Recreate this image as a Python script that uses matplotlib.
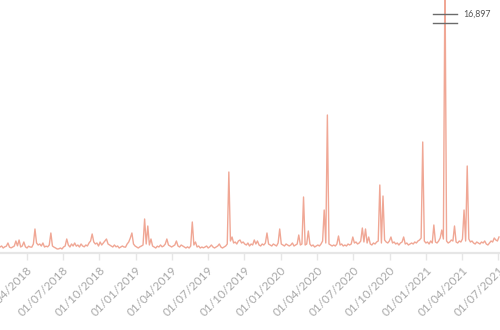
import matplotlib
matplotlib.use("Agg")
import matplotlib.pyplot as plt
import matplotlib.dates as mdates
import matplotlib.transforms as mtransforms
import pandas as pd

# samples every 4 days starting 24/01/2018
START = "2018-01-24"
STEP = "4D"

vals_2018 = [
    360, 420, 300, 370, 410, 600, 350, 310, 360, 420,
    720, 430, 780, 360, 420, 660, 370, 300, 410, 360,
    350, 540, 1440, 600, 480, 540, 420, 600, 360, 410,
    370, 480, 1200, 420, 350, 300, 240, 250, 300, 240,
    360, 420, 840, 480, 360, 540, 420, 600, 410, 480,
    360, 540, 420, 370, 480, 420, 600, 720, 1140, 660,
    540, 600, 420, 660, 480, 600, 720, 840, 540, 480,
    420, 360, 480, 370, 420, 300, 360, 420, 360, 350,
    540, 660, 900, 1200, 540, 420,
]
vals_2019 = [
    360, 300, 370, 420, 480, 2040, 540, 1620, 480, 840,
    420, 360, 300, 410, 360, 480, 370, 420, 540, 840,
    480, 420, 360, 420, 480, 720, 420, 360, 480, 420,
    360, 300, 370, 300, 420, 1860, 480, 660, 360, 420,
    300, 360, 310, 360, 420, 300, 370, 480, 360, 300,
    360, 420, 540, 360, 300, 360, 420, 540, 4860, 720,
    960, 600, 660, 540, 720, 780, 600, 660, 540, 480,
    600, 420, 540, 480, 780, 540, 720, 480, 420, 540,
    480, 600, 1200, 540, 480, 420, 540, 480, 420, 600,
    1440,
]
vals_2020 = [
    540, 480, 420, 540, 480, 420, 480, 600, 420, 480,
    540, 1080, 480, 540, 3360, 480, 540, 1320, 540, 420,
    480, 360, 420, 480, 420, 540, 720, 2580, 600, 8280,
    540, 480, 420, 480, 420, 540, 1020, 480, 540, 420,
    480, 420, 540, 480, 540, 960, 600, 660, 540, 600,
    720, 1500, 660, 1440, 600, 960, 540, 480, 600, 540,
    660, 720, 4080, 600, 3420, 780, 660, 600, 720, 960,
    600, 660, 540, 600, 480, 600, 660, 960, 540, 600,
    480, 540, 600, 540, 660, 600, 720, 780, 900, 6660,
    720, 600,
]
vals_2021 = [
    660, 540, 720, 600, 1680, 660, 600, 720, 900, 1380,
    840, 16897, 720, 600, 660, 780, 720, 1620, 660, 600,
    720, 660, 840, 2580, 720, 5220, 840, 660, 720, 600,
    540, 660, 600, 540, 660, 600, 720, 540, 480, 600,
    720, 660, 900, 780, 720, 960,
]

TICK_DATES = pd.date_range("2018-04-01", "2021-07-01", freq="QS")

LINE_COLOR = "#f0a795"
GRID_GRAY = "#e6e6e6"
LABEL_GRAY = "#a8a8a8"

values = vals_2018 + vals_2019 + vals_2020 + vals_2021
dates = pd.date_range(START, periods=len(values), freq=STEP)
s = pd.Series(values, index=dates)

plt.rcParams["font.family"] = ["Lato", "DejaVu Sans"]

fig = plt.figure(figsize=(5, 3.3), dpi=100)
ax = fig.add_axes([0, 77 / 330, 1, 253 / 330])

ax.plot(s.index, s.values, color=LINE_COLOR, lw=1.0)

ax.set_xlim(pd.Timestamp(START), pd.Timestamp(START) + pd.Timedelta(days=1258.5))
ax.set_ylim(0, 15180)

for side in ["top", "right", "left"]:
    ax.spines[side].set_visible(False)
ax.spines["bottom"].set_color(GRID_GRAY)
ax.spines["bottom"].set_linewidth(1.6)

ax.set_yticks([])
ax.set_xticks(TICK_DATES)
ax.xaxis.set_major_formatter(mdates.DateFormatter("%d/%m/%Y"))
ax.tick_params(axis="x", length=5, width=1, colors=LABEL_GRAY,
               labelsize=8.5, pad=3)
ax.tick_params(axis="x", color=GRID_GRAY)
for lbl in ax.get_xticklabels():
    lbl.set_rotation(45)
    lbl.set_ha("right")
    lbl.set_rotation_mode("anchor")

# max marker at the clipped peak
peak_date = s.idxmax()
peak_val = s.max()
trans = mtransforms.blended_transform_factory(ax.transData, ax.transAxes)
half = pd.Timedelta(days=31)
for yf in (0.9435, 0.908):
    ax.plot([peak_date - half, peak_date + half], [yf, yf], color="#6b6b6b",
            lw=1, transform=trans, clip_on=False)
ax.text(peak_date + pd.Timedelta(days=46), 0.9435, f"{peak_val:,.0f}",
        transform=trans, fontsize=6.3, color="#555555", va="center", ha="left")

fig.savefig("out.png", dpi=100)
